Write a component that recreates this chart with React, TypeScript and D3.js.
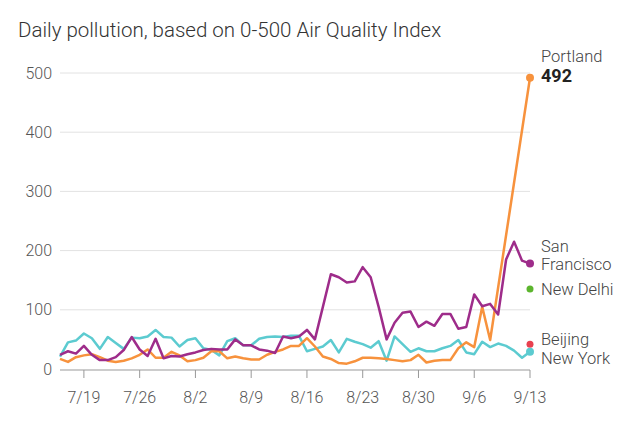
import React from "react";
import * as d3 from "d3";

const START = new Date(2020, 6, 16);
const portland: (number | null)[] = [17, 12, 20, 23, 25, 20, 14, 12, 14, 18, 24, 33, 19, 19, 29, 23, 13, 15, 19, 30, 30, 18, 21, 18, 16, 16, 24, 29, 33, 39, 39, 52, 38, 21, 17, 10, 9, 13, 19, 19, 18, 17, 15, 13, 15, 24, 11, 14, 15, 15, 35, 45, 37, 105, 49, null, null, null, null, 492];
const sanFrancisco: number[] = [24, 30, 26, 39, 24, 15, 15, 20, 32, 54, 33, 22, 51, 18, 22, 21, 25, 28, 32, 34, 33, 33, 50, 40, 40, 33, 31, 27, 55, 52, 55, 66, 50, 105, 160, 155, 146, 148, 172, 155, 105, 50, 78, 95, 97, 71, 80, 73, 93, 93, 68, 71, 126, 106, 110, 92, 185, 215, 183, 178];
const newYork: number[] = [21, 45, 48, 60, 52, 34, 54, 44, 34, 53, 52, 55, 66, 54, 53, 38, 49, 52, 35, 32, 23, 47, 52, 40, 40, 51, 54, 55, 54, 56, 56, 30, 34, 38, 49, 28, 51, 46, 42, 36, 47, 14, 55, 42, 29, 35, 30, 30, 35, 39, 49, 28, 25, 46, 37, 43, 39, 31, 19, 29];
const newDelhiLast = 135;
const beijingLast = 42;
const yTicks = [0, 100, 200, 300, 400, 500];
const xTickLabels = ["7/19", "7/26", "8/2", "8/9", "8/16", "8/23", "8/30", "9/6", "9/13"];

const ORANGE = "#f7923d";
const PURPLE = "#9e2c8a";
const CYAN = "#5ccbd0";
const GREEN = "#5cb52e";
const RED = "#e8414f";
const FONT = "Roboto, 'Open Sans', sans-serif";

export default function App() {
  const W = 639, H = 422;
  const end = d3.timeDay.offset(START, portland.length - 1);
  const x = d3.scaleTime().domain([START, end]).range([60, 530]);
  const y = d3.scaleLinear().domain([0, 500]).range([369, 73]);
  const date = (i: number) => d3.timeDay.offset(START, i);

  const toPts = (arr: (number | null)[]) =>
    arr.map((v, i) => ({ d: date(i), v })).filter((p) => p.v != null) as { d: Date; v: number }[];
  const line = d3.line<{ d: Date; v: number }>().x((p) => x(p.d)).y((p) => y(p.v));

  const tickDates = xTickLabels.map((_, i) => d3.timeDay.offset(new Date(2020, 6, 19), i * 7));
  const lastD = end;

  return (
    <svg width={W} height={H} style={{ position: "absolute", left: 0, top: 0, background: "#fff" }} fontFamily={FONT}>
      <text x={18} y={37} fontSize={20.5} fontWeight={300} fill="#333">Daily pollution, based on 0-500 Air Quality Index</text>
      {yTicks.map((t) => (
        <g key={t}>
          {t > 0 && <line x1={60} x2={530} y1={y(t)} y2={y(t)} stroke="#e2e2e2" strokeWidth={1} />}
          <text x={52} y={y(t)} dy="0.35em" textAnchor="end" fontSize={16} fontWeight={300} fill="#555">{t}</text>
        </g>
      ))}
      <line x1={60} x2={530} y1={370} y2={370} stroke="#999" strokeWidth={1} />
      {tickDates.map((d, i) => (
        <g key={i}>
          <line x1={x(d)} x2={x(d)} y1={370} y2={378} stroke="#999" strokeWidth={1} />
          <text x={x(d)} y={403} textAnchor="middle" fontSize={16} fontWeight={300} fill="#555">{xTickLabels[i]}</text>
        </g>
      ))}
      <path d={line(toPts(newYork)) || ""} fill="none" stroke={CYAN} strokeWidth={2.5} strokeLinejoin="round" />
      <path d={line(toPts(portland)) || ""} fill="none" stroke={ORANGE} strokeWidth={2.5} strokeLinejoin="round" />
      <path d={line(toPts(sanFrancisco)) || ""} fill="none" stroke={PURPLE} strokeWidth={2.5} strokeLinejoin="round" />
      <circle cx={x(lastD)} cy={y(portland[portland.length - 1] as number)} r={4} fill={ORANGE} />
      <circle cx={x(lastD)} cy={y(sanFrancisco[sanFrancisco.length - 1])} r={4} fill={PURPLE} />
      <circle cx={x(lastD)} cy={y(newDelhiLast)} r={3.5} fill={GREEN} />
      <circle cx={x(lastD)} cy={y(beijingLast)} r={3.5} fill={RED} />
      <circle cx={x(lastD)} cy={y(newYork[newYork.length - 1])} r={4} fill={CYAN} />
      <g fontSize={16.5} fontWeight={300} fill="#444">
        <text x={541} y={62}>Portland</text>
        <text x={541} y={82} fontWeight="bold" fontSize={18} fill="#222">{portland[portland.length - 1]}</text>
        <text x={541} y={252}>San</text>
        <text x={541} y={270}>Francisco</text>
        <text x={541} y={295}>New Delhi</text>
        <text x={541} y={345}>Beijing</text>
        <text x={541} y={364}>New York</text>
      </g>
    </svg>
  );
}
